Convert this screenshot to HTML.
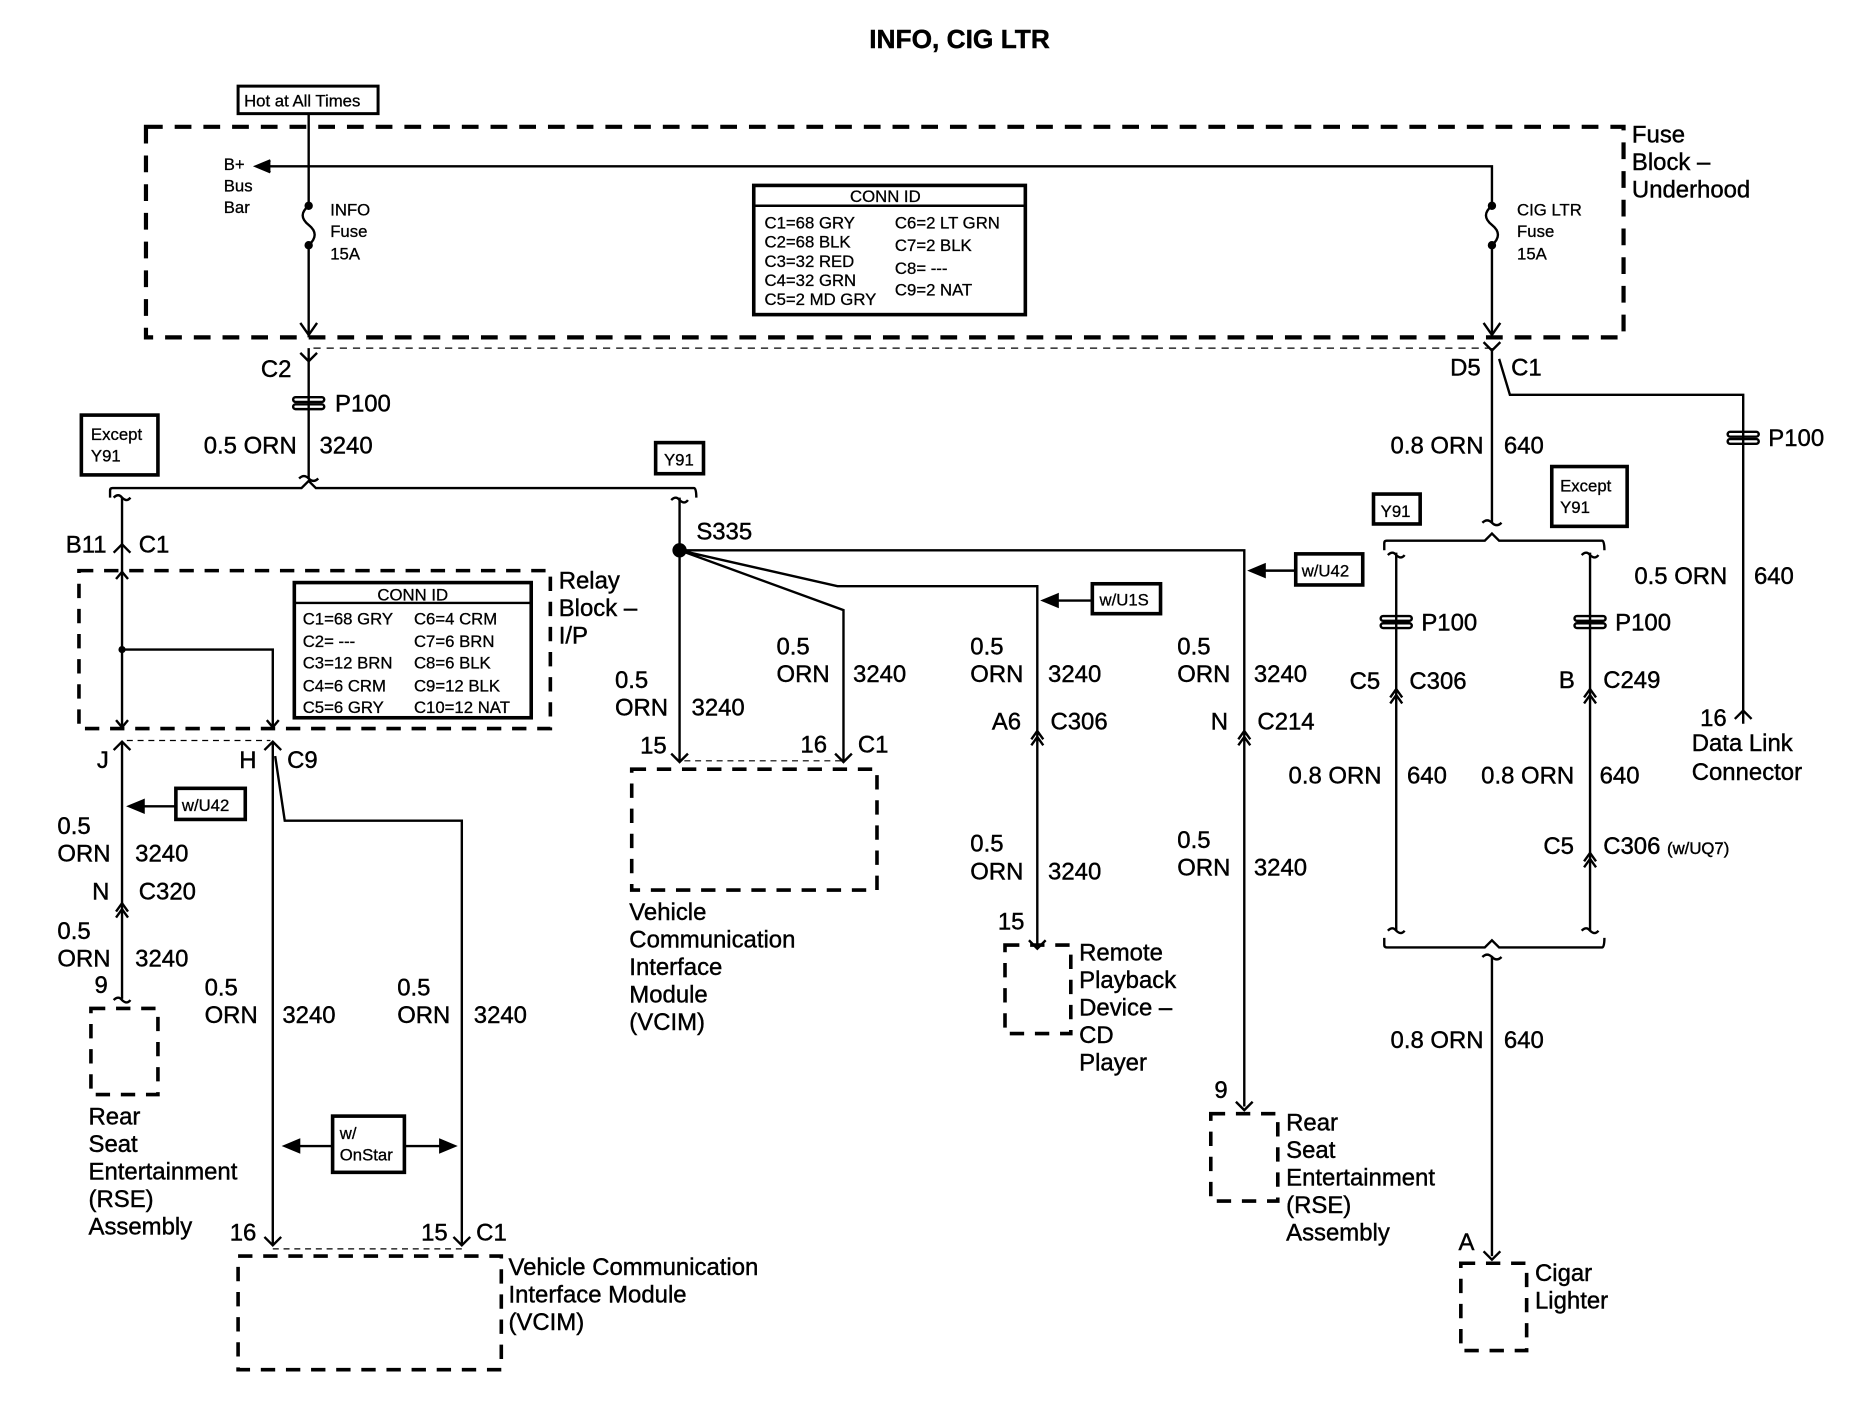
<!DOCTYPE html>
<html><head><meta charset="utf-8"><style>
html,body{margin:0;padding:0;background:#fff}
svg{display:block}
text{font-family:"Liberation Sans",Arial,sans-serif;fill:#000;stroke:#000;stroke-width:0.35px}
.t{font-size:20px}
.s{font-size:14px;stroke-width:0.25px}
.b{font-weight:bold;font-size:22px}
</style></head><body>
<svg width="1876" height="1408" viewBox="0 0 1568 1177" preserveAspectRatio="none" xmlns="http://www.w3.org/2000/svg">
<defs>
<g id="p100"><rect x="-13" y="-5" width="26" height="4" fill="none" stroke="#000" stroke-width="2" rx="2"/><rect x="-13" y="1" width="26" height="4" fill="none" stroke="#000" stroke-width="2" rx="2"/></g>
<g id="upar"><path d="M-5,5 L0,-2 L5,5 M-5,10 L0,3 L5,10" fill="none" stroke="#000" stroke-width="2"/></g>
</defs>
<g stroke="#000" stroke-width="2" fill="none">
<!-- top -->
<rect x="199" y="72" width="117" height="23" stroke-width="2.5"/>
<rect x="122" y="106" width="1235" height="176" stroke-width="3.5" stroke-dasharray="14,10"/>
<path d="M258,95 V172 M258,205 V282"/>
<path d="M258,172 q-10,8 0,16 q10,8 0,17" />
<circle cx="258" cy="172" r="2.5" fill="#000"/><circle cx="258" cy="205" r="2.5" fill="#000"/>
<path d="M214,139 H1247 V172 M1247,205 V282"/>
<path d="M1247,172 q-10,8 0,16 q10,8 0,17"/>
<circle cx="1247" cy="172" r="2.5" fill="#000"/><circle cx="1247" cy="205" r="2.5" fill="#000"/>
<path d="M226,134 L214,139 L226,144" fill="#000"/>
<path d="M251,270 L258,280 L265,270 M1240,270 L1247,280 L1254,270"/>
<rect x="630" y="155" width="227" height="108" stroke-width="3"/>
<path d="M630,172 H857"/>
<path d="M262,291 H1245" stroke-width="1" stroke-dasharray="6,5"/>
<!-- left trunk -->
<path d="M258,291 V400"/>
<path d="M251,295 L258,302 L265,295"/>
<path d="M92,416 V410 Q92,408 94,408 H252 L258,402 L264,408 H580 Q582,408 582,416"/>
<path d="M250,400 q4,-4 8,0 q4,4 8,0"/>
<rect x="68" y="347" width="64" height="50" stroke-width="3"/>
<rect x="548" y="370" width="40" height="26" stroke-width="3"/>
<!-- relay -->
<path d="M102,416 V609 M102,543 H228 V609"/>
<path d="M95,416 q4,-4 7,0 q4,4 7,0"/>
<path d="M95,462 L102,455 L109,462"/>
<path d="M97,484 L102,478 L107,484 M97,602 L102,608 L107,602 M223,602 L228,608 L233,602"/>
<circle cx="102" cy="543" r="2" fill="#000"/>
<rect x="66" y="477" width="394" height="132" stroke-width="3" stroke-dasharray="12,9"/>
<rect x="246" y="487" width="198" height="113" stroke-width="3"/>
<path d="M246,504 H444"/>
<path d="M106,619 H226" stroke-width="1" stroke-dasharray="5,4"/>
<path d="M95,627 L102,620 L109,627 M221,627 L228,620 L235,627"/>
<path d="M102,620 V835 M228,620 V1040 M230,632 L238,686 H386 V1040"/>
<path d="M95,836 q4,-4 7,0 q4,4 7,0"/>
<use href="#upar" x="102" y="757"/>
<rect x="147" y="659" width="58" height="26" stroke-width="3"/>
<path d="M147,674 H112"/><path d="M120,669 L108,674 L120,679 Z" fill="#000"/>
<rect x="76" y="843" width="56" height="72" stroke-width="3" stroke-dasharray="12,9"/>
<rect x="278" y="933" width="60" height="47" stroke-width="3"/>
<path d="M278,958 H242 M338,958 H376"/>
<path d="M250,953 L238,958 L250,963 Z M368,953 L380,958 L368,963 Z" fill="#000"/>
<path d="M221,1034 L228,1041 L235,1034 M379,1034 L386,1041 L393,1034"/>
<path d="M228,1044 H386" stroke-width="1" stroke-dasharray="5,4"/>
<rect x="199" y="1050" width="220" height="95" stroke-width="3" stroke-dasharray="12,9"/>
<!-- S335 -->
<path d="M568,416 V636"/>
<path d="M561,418 q4,-4 7,0 q4,4 7,0"/>
<circle cx="568" cy="460" r="5" fill="#000"/>
<path d="M568,460 L700,490 H867 V790 M568,460 L705,510 V636 M568,460 H1040 V925"/>
<path d="M561,630 L568,637 L575,630 M698,630 L705,637 L712,630"/>
<path d="M572,636 H705" stroke-width="1" stroke-dasharray="5,4"/>
<rect x="528" y="643" width="205" height="101" stroke-width="3" stroke-dasharray="12,9"/>
<rect x="913" y="488" width="57" height="25" stroke-width="3"/>
<path d="M913,502 H880"/><path d="M884,497 L872,502 L884,507 Z" fill="#000"/>
<use href="#upar" x="867" y="613"/>
<path d="M860,786 L867,793 L874,786"/>
<rect x="840" y="790" width="55" height="74" stroke-width="3" stroke-dasharray="12,9"/>
<rect x="1083" y="463" width="56" height="26" stroke-width="3"/>
<path d="M1083,477 H1053"/><path d="M1057,472 L1045,477 L1057,482 Z" fill="#000"/>
<use href="#upar" x="1040" y="613"/>
<path d="M1033,921 L1040,928 L1047,921"/>
<rect x="1012" y="931" width="56" height="73" stroke-width="3" stroke-dasharray="12,9"/>
<!-- right -->
<path d="M1247,291 V437 M1253,300 L1262,330 H1457 V605"/>
<path d="M1240,286 L1247,293 L1254,286"/>
<path d="M1239,437 q4,-4 8,0 q4,4 8,0"/>
<path d="M1157,460 V454 Q1157,452 1159,452 H1241 L1247,446 L1253,452 H1339 Q1341,452 1341,460"/>
<rect x="1148" y="413" width="39" height="25" stroke-width="3"/>
<rect x="1297" y="390" width="63" height="50" stroke-width="3"/>
<path d="M1450,601 L1457,594 L1464,601"/>
<path d="M1167,462 V778 M1329,462 V778"/>
<path d="M1160,464 q4,-4 7,0 q4,4 7,0 M1322,464 q4,-4 7,0 q4,4 7,0"/>
<use href="#upar" x="1167" y="578"/>
<use href="#upar" x="1329" y="578"/>
<use href="#upar" x="1329" y="715"/>
<path d="M1160,778 q4,-4 7,0 q4,4 7,0 M1322,778 q4,-4 7,0 q4,4 7,0"/>
<path d="M1157,784 V790 Q1157,792 1159,792 H1241 L1247,786 L1253,792 H1339 Q1341,792 1341,784"/>
<path d="M1247,799 V1050"/>
<path d="M1239,800 q4,-4 8,0 q4,4 8,0"/>
<path d="M1240,1046 L1247,1053 L1254,1046"/>
<rect x="1221" y="1056" width="55" height="73" stroke-width="3" stroke-dasharray="12,9"/>
</g>
<g fill="#fff">
<use href="#p100" x="258" y="337"/>
<use href="#p100" x="1457" y="366"/>
<use href="#p100" x="1167" y="520"/>
<use href="#p100" x="1329" y="520"/>
</g>
<!-- text -->
<text x="802" y="40" class="b" text-anchor="middle">INFO, CIG LTR</text>
<text x="204" y="89" class="s">Hot at All Times</text>
<text x="1364" y="119" class="t">Fuse</text><text x="1364" y="142" class="t">Block –</text><text x="1364" y="165" class="t">Underhood</text>
<text x="187" y="142" class="s">B+</text><text x="187" y="160" class="s">Bus</text><text x="187" y="178" class="s">Bar</text>
<text x="276" y="180" class="s">INFO</text><text x="276" y="198" class="s">Fuse</text><text x="276" y="217" class="s">15A</text>
<text x="1268" y="180" class="s">CIG LTR</text><text x="1268" y="198" class="s">Fuse</text><text x="1268" y="217" class="s">15A</text>
<text x="740" y="169" class="s" text-anchor="middle">CONN ID</text>
<g class="s">
<text x="639" y="191" class="s">C1=68 GRY</text><text x="639" y="207" class="s">C2=68 BLK</text><text x="639" y="223" class="s">C3=32 RED</text><text x="639" y="239" class="s">C4=32 GRN</text><text x="639" y="255" class="s">C5=2 MD GRY</text>
<text x="748" y="191" class="s">C6=2 LT GRN</text><text x="748" y="210" class="s">C7=2 BLK</text><text x="748" y="229" class="s">C8= ---</text><text x="748" y="247" class="s">C9=2 NAT</text>
</g>
<text x="218" y="315" class="t">C2</text>
<text x="280" y="344" class="t">P100</text>
<text x="248" y="379" class="t" text-anchor="end">0.5 ORN</text><text x="267" y="379" class="t">3240</text>
<text x="76" y="368" class="s">Except</text><text x="76" y="386" class="s">Y91</text>
<text x="555" y="389" class="s">Y91</text>
<text x="55" y="462" class="t">B11</text><text x="116" y="462" class="t">C1</text>
<text x="582" y="451" class="t">S335</text>
<text x="467" y="492" class="t">Relay</text><text x="467" y="515" class="t">Block –</text><text x="467" y="538" class="t">I/P</text>
<text x="345" y="502" class="s" text-anchor="middle">CONN ID</text>
<g>
<text x="253" y="522" class="s">C1=68 GRY</text><text x="253" y="541" class="s">C2= ---</text><text x="253" y="559" class="s">C3=12 BRN</text><text x="253" y="578" class="s">C4=6 CRM</text><text x="253" y="596" class="s">C5=6 GRY</text>
<text x="346" y="522" class="s">C6=4 CRM</text><text x="346" y="541" class="s">C7=6 BRN</text><text x="346" y="559" class="s">C8=6 BLK</text><text x="346" y="578" class="s">C9=12 BLK</text><text x="346" y="596" class="s">C10=12 NAT</text>
</g>
<text x="81" y="642" class="t">J</text><text x="200" y="642" class="t">H</text><text x="240" y="642" class="t">C9</text>
<text x="152" y="678" class="s">w/U42</text>
<text x="48" y="697" class="t">0.5</text><text x="48" y="720" class="t">ORN</text><text x="113" y="720" class="t">3240</text>
<text x="77" y="752" class="t">N</text><text x="116" y="752" class="t">C320</text>
<text x="48" y="785" class="t">0.5</text><text x="48" y="808" class="t">ORN</text><text x="113" y="808" class="t">3240</text>
<text x="79" y="830" class="t">9</text>
<text x="171" y="832" class="t">0.5</text><text x="171" y="855" class="t">ORN</text><text x="236" y="855" class="t">3240</text>
<text x="332" y="832" class="t">0.5</text><text x="332" y="855" class="t">ORN</text><text x="396" y="855" class="t">3240</text>
<text x="74" y="940" class="t">Rear</text><text x="74" y="963" class="t">Seat</text><text x="74" y="986" class="t">Entertainment</text><text x="74" y="1009" class="t">(RSE)</text><text x="74" y="1032" class="t">Assembly</text>
<text x="284" y="952" class="s">w/</text><text x="284" y="970" class="s">OnStar</text>
<text x="192" y="1037" class="t">16</text><text x="352" y="1037" class="t">15</text><text x="398" y="1037" class="t">C1</text>
<text x="425" y="1066" class="t">Vehicle Communication</text><text x="425" y="1089" class="t">Interface Module</text><text x="425" y="1112" class="t">(VCIM)</text>
<text x="514" y="575" class="t">0.5</text><text x="514" y="598" class="t">ORN</text><text x="578" y="598" class="t">3240</text>
<text x="649" y="547" class="t">0.5</text><text x="649" y="570" class="t">ORN</text><text x="713" y="570" class="t">3240</text>
<text x="535" y="630" class="t">15</text><text x="669" y="629" class="t">16</text><text x="717" y="629" class="t">C1</text>
<text x="526" y="769" class="t">Vehicle</text><text x="526" y="792" class="t">Communication</text><text x="526" y="815" class="t">Interface</text><text x="526" y="838" class="t">Module</text><text x="526" y="861" class="t">(VCIM)</text>
<text x="919" y="506" class="s">w/U1S</text>
<text x="811" y="547" class="t">0.5</text><text x="811" y="570" class="t">ORN</text><text x="876" y="570" class="t">3240</text>
<text x="829" y="610" class="t">A6</text><text x="878" y="610" class="t">C306</text>
<text x="811" y="712" class="t">0.5</text><text x="811" y="735" class="t">ORN</text><text x="876" y="735" class="t">3240</text>
<text x="834" y="777" class="t">15</text>
<text x="902" y="803" class="t">Remote</text><text x="902" y="826" class="t">Playback</text><text x="902" y="849" class="t">Device –</text><text x="902" y="872" class="t">CD</text><text x="902" y="895" class="t">Player</text>
<text x="1088" y="482" class="s">w/U42</text>
<text x="984" y="547" class="t">0.5</text><text x="984" y="570" class="t">ORN</text><text x="1048" y="570" class="t">3240</text>
<text x="1012" y="610" class="t">N</text><text x="1051" y="610" class="t">C214</text>
<text x="984" y="709" class="t">0.5</text><text x="984" y="732" class="t">ORN</text><text x="1048" y="732" class="t">3240</text>
<text x="1015" y="918" class="t">9</text>
<text x="1075" y="945" class="t">Rear</text><text x="1075" y="968" class="t">Seat</text><text x="1075" y="991" class="t">Entertainment</text><text x="1075" y="1014" class="t">(RSE)</text><text x="1075" y="1037" class="t">Assembly</text>
<text x="1212" y="314" class="t">D5</text><text x="1263" y="314" class="t">C1</text>
<text x="1240" y="379" class="t" text-anchor="end">0.8 ORN</text><text x="1257" y="379" class="t">640</text>
<text x="1478" y="373" class="t">P100</text>
<text x="1154" y="432" class="s">Y91</text>
<text x="1304" y="411" class="s">Except</text><text x="1304" y="429" class="s">Y91</text>
<text x="1366" y="488" class="t">0.5 ORN</text><text x="1466" y="488" class="t">640</text>
<text x="1188" y="527" class="t">P100</text><text x="1350" y="527" class="t">P100</text>
<text x="1128" y="576" class="t">C5</text><text x="1178" y="576" class="t">C306</text>
<text x="1303" y="575" class="t">B</text><text x="1340" y="575" class="t">C249</text>
<text x="1421" y="607" class="t">16</text>
<text x="1414" y="628" class="t">Data Link</text><text x="1414" y="652" class="t">Connector</text>
<text x="1077" y="655" class="t">0.8 ORN</text><text x="1176" y="655" class="t">640</text>
<text x="1238" y="655" class="t">0.8 ORN</text><text x="1337" y="655" class="t">640</text>
<text x="1290" y="714" class="t">C5</text><text x="1340" y="714" class="t">C306 <tspan font-size="14">(w/UQ7)</tspan></text>
<text x="1240" y="876" class="t" text-anchor="end">0.8 ORN</text><text x="1257" y="876" class="t">640</text>
<text x="1219" y="1045" class="t">A</text>
<text x="1283" y="1071" class="t">Cigar</text><text x="1283" y="1094" class="t">Lighter</text>
</svg>
</body></html>
